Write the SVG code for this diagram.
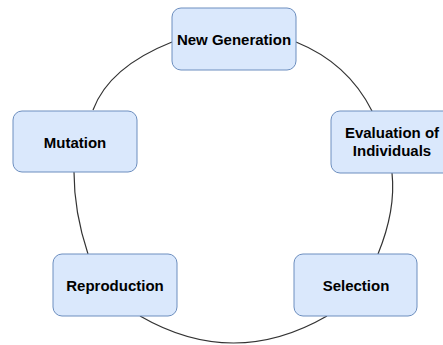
<svg xmlns="http://www.w3.org/2000/svg" width="443" height="345" viewBox="0 0 443 345">
  <style>
    .box { fill: #dae8fc; stroke: #6c8ebf; stroke-width: 1; }
    .lbl { font-family: "Liberation Sans", Arial, Helvetica, sans-serif; font-size: 15px; font-weight: bold; fill: #000; text-anchor: middle; }
    .link { fill: none; stroke: #333333; stroke-width: 1.2; }
  </style>
  <rect width="443" height="345" fill="#ffffff"/>

  <!-- cycle connectors -->
  <g id="connectors">
    <path class="link" d="M296,42 Q348,63 372,111"/>
    <path class="link" d="M392,173 Q396,210 378,254"/>
    <path class="link" d="M327,316 Q233.5,370 140,316"/>
    <path class="link" d="M88,254 Q74,212 74,172"/>
    <path class="link" d="M93,110 Q109,67 172,42"/>
  </g>

  <g id="new-generation">
    <rect class="box" x="172" y="8" width="124" height="62" rx="9"/>
    <text class="lbl" x="234" y="44.5">New Generation</text>
  </g>

  <g id="evaluation">
    <rect class="box" x="331" y="111" width="124" height="62" rx="9"/>
    <text class="lbl" x="392" y="137.5">Evaluation of</text>
    <text class="lbl" x="392" y="155.5">Individuals</text>
  </g>

  <g id="selection">
    <rect class="box" x="294" y="254" width="123" height="62" rx="9"/>
    <text class="lbl" x="356" y="291">Selection</text>
  </g>

  <g id="reproduction">
    <rect class="box" x="53" y="254" width="124" height="62" rx="9"/>
    <text class="lbl" x="115" y="291">Reproduction</text>
  </g>

  <g id="mutation">
    <rect class="box" x="13" y="111" width="124" height="61" rx="9"/>
    <text class="lbl" x="75" y="148">Mutation</text>
  </g>
</svg>
